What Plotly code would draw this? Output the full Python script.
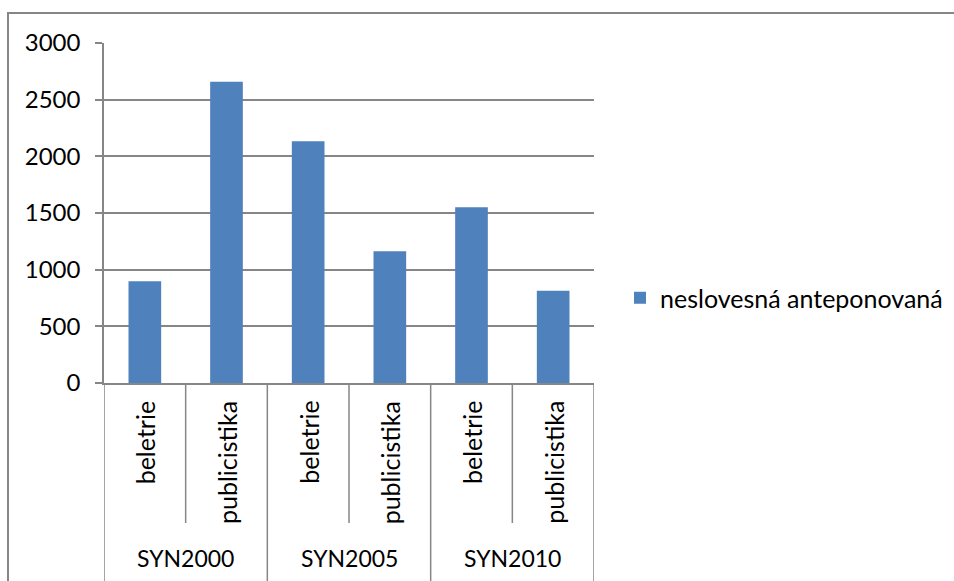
import plotly.graph_objects as go

groups = ["SYN2000", "SYN2000", "SYN2005", "SYN2005", "SYN2010", "SYN2010"]
genres = ["beletrie", "publicistika", "beletrie", "publicistika", "beletrie", "publicistika"]
values = [897, 2659, 2132, 1162, 1550, 815]
series_name = "neslovesná anteponovaná"
group_names = ["SYN2000", "SYN2005", "SYN2010"]

cats = [f"{g} {c}" for g, c in zip(groups, genres)]

FONT = "Lato"
GRAY = "#868686"
BLUE = "#4F81BD"

W, H = 954, 581
ML, MR, MT, MB = 104, 360, 43, 198
PW = W - ML - MR
PH = H - MT - MB

def px_to_paper_x(px):
    return (px - ML) / PW

def px_to_paper_y(py):
    return (H - MB - py) / PH

fig = go.Figure()
fig.add_trace(go.Bar(
    x=cats, y=values, name=series_name,
    marker=dict(color=BLUE, line=dict(width=0)),
    width=0.4, showlegend=True,
))

shapes = []
annotations = []

# inner category labels
for i, c in enumerate(genres):
    annotations.append(dict(
        x=i, xref="x", y=0, yref="paper", text=c, textangle=-90,
        showarrow=False, xanchor="center", yanchor="top", yshift=-16,
        font=dict(family=FONT, size=25, color="black"),
    ))
# dividers
n = len(cats)
for i in range(n + 1):
    b = i - 0.5
    is_group_edge = (i == 0 or i == n or groups[i] != groups[i - 1])
    y1 = px_to_paper_y(H + 10) if is_group_edge else px_to_paper_y(523)
    shapes.append(dict(type="line", xref="x", yref="paper", x0=b, x1=b,
                       y0=0, y1=y1, line=dict(color=GRAY, width=1.5)))

# outer group labels
for g in group_names:
    idx = [i for i, gg in enumerate(groups) if gg == g]
    annotations.append(dict(
        x=sum(idx) / len(idx), xref="x", y=px_to_paper_y(558), yref="paper",
        text=g, showarrow=False, xanchor="center", yanchor="middle",
        font=dict(family=FONT, size=23, color="black"),
    ))

# chart area border
shapes.append(dict(type="rect", xref="paper", yref="paper",
                   x0=px_to_paper_x(8), x1=px_to_paper_x(W + 10),
                   y0=px_to_paper_y(H + 10), y1=px_to_paper_y(13),
                   line=dict(color=GRAY, width=2), fillcolor="rgba(0,0,0,0)",
                   layer="below"))

fig.update_layout(
    width=W, height=H,
    margin=dict(l=ML, r=MR, t=MT, b=MB, autoexpand=False),
    paper_bgcolor="white", plot_bgcolor="white",
    font=dict(family=FONT, size=24, color="black"),
    bargap=0.6,
    showlegend=True,
    legend=dict(x=px_to_paper_x(620), xanchor="left", y=px_to_paper_y(298), yanchor="middle",
                font=dict(family=FONT, size=25, color="black"),
                bgcolor="rgba(0,0,0,0)", itemwidth=30),
    xaxis=dict(type="category", range=[-0.5, n - 0.5], showticklabels=False,
               showgrid=False, showline=True, linecolor=GRAY, linewidth=1.5,
               ticks="", zeroline=False, fixedrange=True),
    yaxis=dict(range=[0, 3000], dtick=500, tick0=0, showgrid=True, gridcolor=GRAY,
               gridwidth=1.5, showline=True, linecolor=GRAY, linewidth=1.5,
               ticks="outside", ticklen=7, tickcolor=GRAY, tickwidth=1.5,
               ticklabelstandoff=10, zeroline=False,
               tickfont=dict(family=FONT, size=24, color="black"), fixedrange=True),
    shapes=shapes,
    annotations=annotations,
)

fig.write_html("out.html")
